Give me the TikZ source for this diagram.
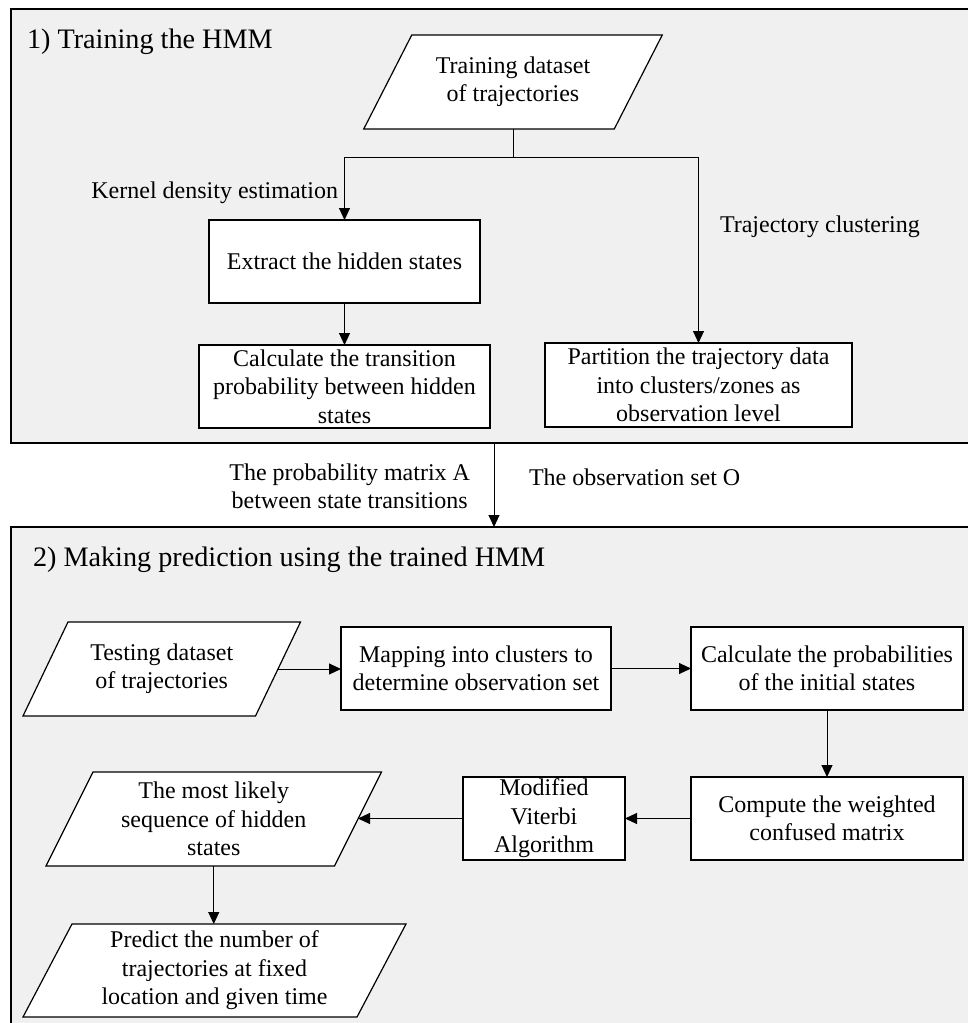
\documentclass[tikz,border=0pt]{standalone}
\usepackage{fontspec}
\setmainfont{Liberation Serif}
\usetikzlibrary{arrows.meta,calc}
\pgfdeclarelayer{panel}
\pgfdeclarelayer{shapes}
\pgfsetlayers{panel,shapes,main}
\definecolor{panelgray}{RGB}{240,240,240}
\tikzset{
  every node/.style={font=\fontsize{12}{14.2}\selectfont, inner sep=0pt, outer sep=0pt},
  panelbox/.style={draw=black, line width=0.8pt, fill=panelgray, rectangle},
  procbox/.style={draw=black, line width=0.6pt, fill=white, align=center, rectangle},
  parabox/.style={align=center, rectangle},
  paraline/.style={draw=black, line width=0.6pt, fill=white},
  arr/.style={-{Triangle[length=6pt,width=5.5pt]}, line width=0.5pt},
  plain/.style={line width=0.5pt},
  lbl/.style={align=center},
  heading/.style={font=\fontsize{14.1}{17}\selectfont}
}
\newcommand{\drawpara}[2]{\draw[paraline] ($(#1.south west)+(-#2,0)$) -- ($(#1.south east)+(-#2,0)$) -- ($(#1.north east)+(#2,0)$) -- ($(#1.north west)+(#2,0)$) -- cycle;}

\begin{document}
\begin{tikzpicture}[x=0.5pt,y=-0.5pt]
\useasboundingbox (0,0) rectangle (968,1023);
\clip (0,0) rectangle (968,1023);
\begin{pgfonlayer}{panel}
\node[panelbox, minimum width=494.5pt, minimum height=217pt] (p1) at (505.5,226) {};
\node[panelbox, minimum width=494.5pt, minimum height=261.5pt] (p2) at (505.5,788.5) {};
\end{pgfonlayer}

% ---- panel 1
\node[heading, anchor=west] (t1) at (27,42) {1) Training the HMM};
\node[parabox, minimum width=125.25pt, minimum height=47pt] (train) at (513,82) {Training dataset\\of trajectories};
\node[procbox, minimum width=135.5pt, minimum height=41.5pt] (extract) at (344.5,261.5) {Extract the hidden states};
\node[procbox, minimum width=145.5pt, minimum height=41.5pt] (calc) at (344.5,386.5) {Calculate the transition\\probability between hidden\\states};
\node[procbox, minimum width=153.5pt, minimum height=42pt] (partition) at (698.5,385) {Partition the trajectory data\\into clusters/zones as\\observation level};
\node[anchor=east] (kde) at (338,193) {Kernel density estimation};
\node[anchor=west] (tc) at (720,227) {Trajectory clustering};
\coordinate (j) at (513,157);
\draw[plain] (train.south) -- (j);
\draw[arr] (j) -| (extract.north);
\draw[arr] (j) -| (partition.north);
\draw[arr] (extract.south) -- (calc.north);

% ---- between panels
\coordinate (fx) at (494,0);
\draw[arr] (p1.south -| fx) -- (p2.north -| fx);
\node[lbl, anchor=east] (lA) at (470,486) {The probability matrix A\\between state transitions};
\node[anchor=west] (lO) at (529,477) {The observation set O};

% ---- panel 2
\node[heading, anchor=west] (t2) at (33,560) {2) Making prediction using the trained HMM};
\node[parabox, minimum width=116.25pt, minimum height=47pt] (testing) at (161.75,669) {Testing dataset\\of trajectories};
\node[procbox, minimum width=135pt, minimum height=41.5pt] (mapping) at (476,668.5) {Mapping into clusters to\\determine observation set};
\node[procbox, minimum width=136pt, minimum height=41.5pt] (calcprob) at (827,668.5) {Calculate the probabilities\\of the initial states};
\node[procbox, minimum width=136pt, minimum height=41.5pt] (compute) at (827,818.5) {Compute the weighted\\confused matrix};
\node[procbox, minimum width=81pt, minimum height=41.5pt] (modified) at (544,818.5) {Modified\\Viterbi\\Algorithm};
\node[parabox, minimum width=144.25pt, minimum height=47pt] (ml) at (213.75,819) {The most likely\\sequence of hidden\\states};
\node[parabox, minimum width=167pt, minimum height=46.5pt] (predict) at (214.5,970.5) {Predict the number of\\trajectories at fixed\\location and given time};

\draw[arr] (testing.east) -- (testing.east -| mapping.west);
\draw[arr] (mapping.east) -- (mapping.east -| calcprob.west);
\draw[arr] (calcprob.south) -- (compute.north);
\draw[arr] (compute.west) -- (modified.east);
\draw[arr] (modified.west) -- (modified.west -| ml.east);
\draw[arr] (ml.south) -- (ml.south |- predict.north);

\begin{pgfonlayer}{shapes}
\drawpara{train}{24}
\drawpara{testing}{22.5}
\drawpara{ml}{23.5}
\drawpara{predict}{24.5}
\end{pgfonlayer}
\end{tikzpicture}
\end{document}
